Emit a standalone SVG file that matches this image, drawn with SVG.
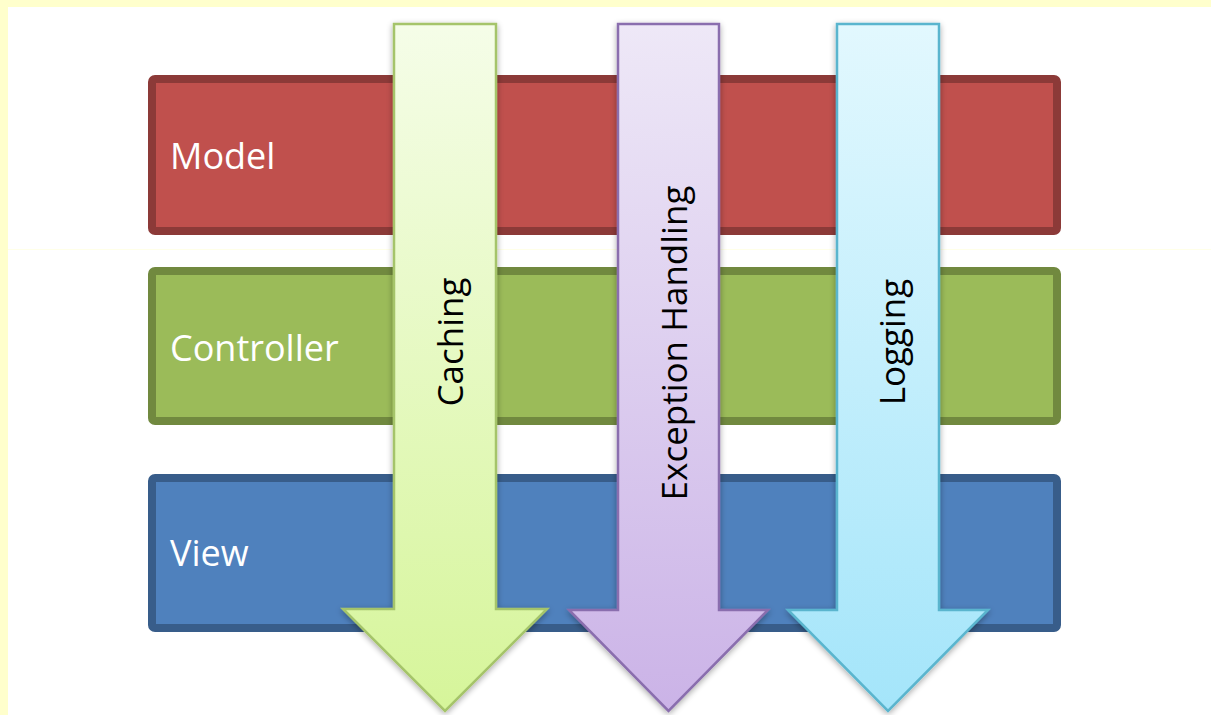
<svg xmlns="http://www.w3.org/2000/svg" width="1211" height="715" viewBox="0 0 1211 715">
  <defs>
    <linearGradient id="gCaching" x1="0" y1="0" x2="0" y2="1">
      <stop offset="0" stop-color="#F5FDE8"/>
      <stop offset="1" stop-color="#D6F59A"/>
    </linearGradient>
    <linearGradient id="gException" x1="0" y1="0" x2="0" y2="1">
      <stop offset="0" stop-color="#EEE8F7"/>
      <stop offset="1" stop-color="#CBB3E7"/>
    </linearGradient>
    <linearGradient id="gLogging" x1="0" y1="0" x2="0" y2="1">
      <stop offset="0" stop-color="#E2F8FE"/>
      <stop offset="1" stop-color="#A4E5FA"/>
    </linearGradient>
    <filter id="shadow" x="-20%" y="-10%" width="140%" height="120%">
      <feGaussianBlur in="SourceAlpha" stdDeviation="3"/>
      <feOffset dx="0" dy="2" result="b"/>
      <feComponentTransfer><feFuncA type="linear" slope="0.35"/></feComponentTransfer>
      <feMerge><feMergeNode/><feMergeNode in="SourceGraphic"/></feMerge>
    </filter>
  </defs>
  <style>
    .layer { stroke-width: 8; }
    .layerLabel { font-family: "Open Sans", "Liberation Sans", sans-serif; font-size: 36px; fill: #FFFFFF; }
    .arrow { stroke-width: 2.5; stroke-linejoin: miter; filter: url(#shadow); }
    .arrowLabel { font-family: "Open Sans", "Liberation Sans", sans-serif; font-size: 35px; fill: #000000; text-anchor: middle; }
  </style>

  <rect x="0" y="0" width="1211" height="715" fill="#FFFFCC"/>
  <rect x="8" y="7" width="1203" height="708" fill="#FFFFFF"/>
  <line x1="8" y1="249.5" x2="1211" y2="249.5" stroke="#FFFFE8" stroke-width="1"/>

  <g id="model">
    <rect class="layer" x="152" y="79" width="905" height="152" rx="3" fill="#C0504D" stroke="#8C3A38"/>
    <text class="layerLabel" x="170" y="169">Model</text>
  </g>
  <g id="controller">
    <rect class="layer" x="152" y="271" width="905" height="150" rx="3" fill="#9BBB59" stroke="#71893F"/>
    <text class="layerLabel" x="170" y="361">Controller</text>
  </g>
  <g id="view">
    <rect class="layer" x="152" y="478" width="905" height="150" rx="3" fill="#4F81BD" stroke="#385D8A"/>
    <text class="layerLabel" x="170" y="566">View</text>
  </g>

  <g id="caching">
    <polygon class="arrow" points="394,24 496,24 496,609 547,609 445,711 343,609 394,609" fill="url(#gCaching)" stroke="#A5C46A"/>
    <text class="arrowLabel" transform="translate(463,342) rotate(-90)">Caching</text>
  </g>
  <g id="exception-handling">
    <polygon class="arrow" points="618,24 719,24 719,610 768,610 668.5,711 569,610 618,610" fill="url(#gException)" stroke="#8A6EAE"/>
    <text class="arrowLabel" transform="translate(687,343) rotate(-90)">Exception Handling</text>
  </g>
  <g id="logging">
    <polygon class="arrow" points="837,24 939,24 939,610 988,610 888,711 788,610 837,610" fill="url(#gLogging)" stroke="#5AB5CE"/>
    <text class="arrowLabel" transform="translate(905,342) rotate(-90)">Logging</text>
  </g>

  <g id="connectors"/>
</svg>
